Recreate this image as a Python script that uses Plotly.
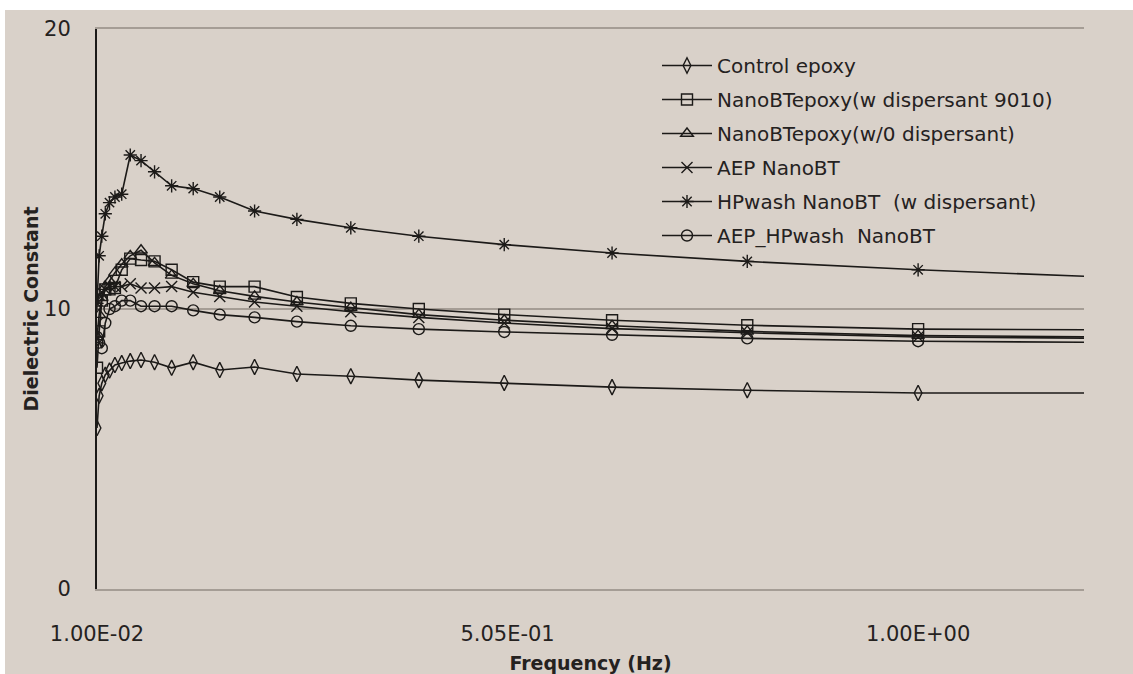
import plotly.graph_objects as go

# Frequency (Hz)
freq = [0.01, 0.0126, 0.0158, 0.02, 0.0251, 0.0316, 0.0398, 0.0501, 0.0631, 0.0794,
        0.1, 0.126, 0.158, 0.2, 0.251, 0.316, 0.398, 0.501, 0.631, 0.794, 1.0, 1.26]

control_epoxy = [5.75, 6.9, 7.35, 7.65, 7.8, 8.0, 8.07, 8.14, 8.18, 8.1,
                 7.9, 8.1, 7.82, 7.93, 7.68, 7.6, 7.46, 7.36, 7.21, 7.1, 7.0, 7.0]
nano_w_disp = [7.9, 9.2, 10.3, 10.7, 10.7, 10.75, 11.4, 11.8, 11.75, 11.7,
               11.4, 10.96, 10.8, 10.8, 10.43, 10.2, 10.0, 9.8, 9.6, 9.42, 9.28, 9.25]
nano_wo_disp = [9.0, 9.8, 10.4, 10.8, 11.0, 11.3, 11.6, 11.9, 12.1, 11.65,
                11.2, 10.9, 10.65, 10.45, 10.25, 10.05, 9.8, 9.6, 9.4, 9.2, 9.05, 9.0]
aep_nano = [10.3, 10.5, 10.6, 10.7, 10.8, 10.8, 10.8, 10.9, 10.75, 10.75,
            10.8, 10.6, 10.45, 10.25, 10.1, 9.9, 9.7, 9.5, 9.3, 9.15, 9.0, 8.95]
hpwash_nano = [10.2, 11.9, 12.6, 13.4, 13.8, 14.0, 14.1, 15.5, 15.3, 14.9,
               14.4, 14.3, 14.0, 13.5, 13.2, 12.9, 12.6, 12.3, 12.0, 11.7, 11.4, 11.1]
aep_hpwash = [9.0, 8.8, 8.6, 9.5, 10.0, 10.1, 10.3, 10.3, 10.1, 10.1,
              10.1, 9.95, 9.8, 9.7, 9.55, 9.4, 9.28, 9.18, 9.08, 8.95, 8.85, 8.8]

series_names = ["Control epoxy", "NanoBTepoxy(w dispersant 9010)", "NanoBTepoxy(w/0 dispersant)",
                "AEP NanoBT", "HPwash NanoBT  (w dispersant)", "AEP_HPwash  NanoBT"]
series_values = [control_epoxy, nano_w_disp, nano_wo_disp, aep_nano, hpwash_nano, aep_hpwash]
symbols = ["diamond-tall-open", "square-open", "triangle-up-open", "x-thin-open",
           "asterisk-open", "circle-open"]

x_ticks = [0.01, 0.505, 1.0]
x_ticktext = ["1.00E-02", "5.05E-01", "1.00E+00"]
y_ticks = [0, 10, 20]

FONT = "DejaVu Sans"
INK = "#1c1a18"
TXT = "#25221f"
BG = "#d9d1c9"
GRID = "#a59d95"

fig = go.Figure()
for i, (name, vals, sym) in enumerate(zip(series_names, series_values, symbols)):
    fig.add_trace(go.Scatter(
        x=freq, y=vals, name=name, mode="lines+markers",
        line=dict(color=INK, width=1.6),
        marker=dict(symbol=sym, size=11, color=INK, line=dict(color=INK, width=1.4)),
        legendgroup=f"g{i}",
    ))

W, H = 1133, 674
L, R, T, B = 97, 49, 29, 85
pw, ph = W - L - R, H - T - B

def px_x(p):
    return (p - L) / pw

def px_y(p):
    return (H - B - p) / ph

shapes = [
    dict(type="rect", xref="paper", yref="paper", layer="below",
         x0=px_x(5), x1=px_x(W + 5), y0=px_y(H + 5), y1=px_y(10),
         fillcolor=BG, line=dict(width=0)),
]

fig.update_layout(
    width=W, height=H,
    margin=dict(l=L, r=R, t=T, b=B, pad=0),
    paper_bgcolor="white", plot_bgcolor=BG,
    font=dict(family=FONT, color=TXT, size=19),
    shapes=shapes,
    showlegend=True,
    legend=dict(x=px_x(657), y=px_y(46), xanchor="left", yanchor="top",
                bgcolor="rgba(0,0,0,0)", font=dict(size=20, family=FONT, color=TXT),
                tracegroupgap=5, itemwidth=50),
    xaxis=dict(range=[0.01, 1.2], tickvals=x_ticks, ticktext=x_ticktext,
               automargin=False,
               showgrid=False, zeroline=False,
               showline=True, mirror=True, linecolor=GRID, linewidth=2,
               ticks="outside", ticklen=25, tickcolor="rgba(0,0,0,0)",
               tickfont=dict(size=21, family=FONT, color=TXT),
               title=dict(text="<b>Frequency (Hz)</b>", standoff=14,
                          font=dict(size=19, family=FONT, color=TXT))),
    yaxis=dict(range=[0, 20], tickvals=y_ticks, showgrid=True, gridcolor=GRID, gridwidth=2,
               automargin=False,
               zeroline=False,
               showline=True, linecolor=INK, linewidth=2, mirror=False,
               ticks="outside", ticklen=20, tickcolor="rgba(0,0,0,0)",
               tickfont=dict(size=21, family=FONT, color=TXT),
               title=dict(text="<b>Dielectric Constant</b>", standoff=0,
                          font=dict(size=19, family=FONT, color=TXT))),
)

fig.write_html(
    "out.html",
    config={"displayModeBar": False},
    post_script=(
        "var d=document.documentElement,b=document.body;"
        "d.style.margin='0';d.style.padding='0';d.style.overflow='hidden';d.style.height='674px';"
        "b.style.margin='0';b.style.padding='0';b.style.overflow='hidden';b.style.height='674px';"
    ),
)
